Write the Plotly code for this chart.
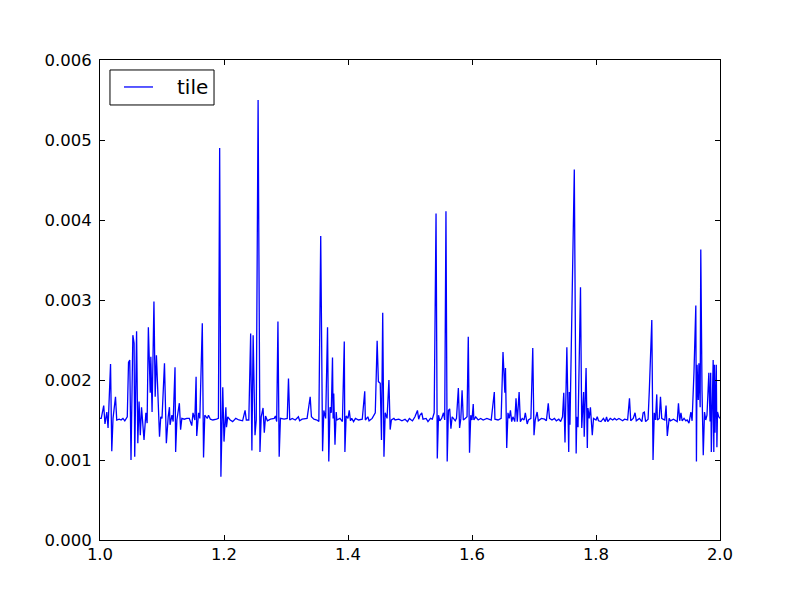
import plotly.graph_objects as go

x_vals = [
    1.000, 1.002, 1.006, 1.008, 1.011, 1.013, 1.017, 1.019, 1.021, 1.025, 1.027, 1.031, 1.034, 1.037, 1.040,
    1.044, 1.046, 1.048, 1.050, 1.053, 1.055, 1.056, 1.059, 1.061, 1.063, 1.065, 1.067, 1.069, 1.071, 1.074,
    1.076, 1.078, 1.081, 1.082, 1.084, 1.087, 1.089, 1.091, 1.094, 1.096, 1.098, 1.100, 1.104, 1.107, 1.110,
    1.112, 1.113, 1.116, 1.118, 1.121, 1.122, 1.124, 1.128, 1.130, 1.132, 1.136, 1.140, 1.144, 1.148, 1.150,
    1.153, 1.155, 1.156, 1.159, 1.161, 1.165, 1.167, 1.169, 1.173, 1.175, 1.178, 1.182, 1.188, 1.191, 1.193,
    1.195, 1.198, 1.200, 1.203, 1.204, 1.206, 1.210, 1.214, 1.219, 1.224, 1.230, 1.234, 1.236, 1.240, 1.243,
    1.245, 1.247, 1.250, 1.252, 1.255, 1.258, 1.260, 1.263, 1.265, 1.267, 1.270, 1.275, 1.281, 1.283, 1.285,
    1.287, 1.289, 1.291, 1.297, 1.302, 1.304, 1.306, 1.310, 1.315, 1.320, 1.322, 1.326, 1.334, 1.339, 1.341,
    1.345, 1.350, 1.353, 1.356, 1.359, 1.361, 1.364, 1.367, 1.369, 1.371, 1.373, 1.375, 1.376, 1.377, 1.379,
    1.381, 1.382, 1.387, 1.391, 1.394, 1.395, 1.397, 1.400, 1.402, 1.404, 1.406, 1.409, 1.412, 1.417, 1.423,
    1.427, 1.428, 1.432, 1.434, 1.439, 1.444, 1.447, 1.449, 1.452, 1.454, 1.456, 1.458, 1.460, 1.463, 1.466,
    1.468, 1.470, 1.474, 1.476, 1.482, 1.487, 1.492, 1.496, 1.499, 1.502, 1.504, 1.508, 1.512, 1.514, 1.516,
    1.519, 1.521, 1.526, 1.529, 1.533, 1.536, 1.539, 1.542, 1.544, 1.546, 1.548, 1.551, 1.554, 1.556, 1.558,
    1.560, 1.562, 1.564, 1.566, 1.568, 1.570, 1.573, 1.575, 1.578, 1.580, 1.582, 1.584, 1.586, 1.589, 1.592,
    1.594, 1.596, 1.598, 1.600, 1.602, 1.603, 1.606, 1.610, 1.614, 1.618, 1.624, 1.628, 1.631, 1.636, 1.637,
    1.642, 1.647, 1.650, 1.653, 1.654, 1.656, 1.658, 1.660, 1.662, 1.664, 1.666, 1.669, 1.671, 1.673, 1.676,
    1.678, 1.681, 1.684, 1.686, 1.689, 1.691, 1.695, 1.698, 1.700, 1.702, 1.705, 1.707, 1.712, 1.717, 1.720,
    1.723, 1.725, 1.729, 1.733, 1.736, 1.740, 1.743, 1.746, 1.748, 1.750, 1.753, 1.756, 1.757, 1.758, 1.765,
    1.768, 1.769, 1.771, 1.775, 1.777, 1.780, 1.781, 1.784, 1.786, 1.787, 1.789, 1.791, 1.794, 1.796, 1.800,
    1.802, 1.804, 1.808, 1.812, 1.815, 1.817, 1.819, 1.823, 1.827, 1.830, 1.833, 1.837, 1.843, 1.846, 1.851,
    1.854, 1.856, 1.860, 1.863, 1.865, 1.870, 1.874, 1.876, 1.878, 1.880, 1.884, 1.886, 1.890, 1.892, 1.894,
    1.896, 1.898, 1.899, 1.902, 1.904, 1.906, 1.908, 1.911, 1.913, 1.915, 1.918, 1.920, 1.925, 1.928, 1.931,
    1.933, 1.935, 1.937, 1.939, 1.942, 1.945, 1.947, 1.950, 1.953, 1.955, 1.958, 1.961, 1.962, 1.963, 1.965,
    1.966, 1.968, 1.969, 1.971, 1.973, 1.975, 1.977, 1.979, 1.982, 1.984, 1.985, 1.986, 1.988, 1.989, 1.990,
    1.991, 1.992, 1.994, 1.995, 1.996, 1.998, 2.000,
]

tile_vals = [
    0.00152, 0.00152, 0.00168, 0.00145, 0.00160, 0.00140, 0.00220, 0.00111, 0.00152, 0.00179, 0.00150, 0.00151, 0.00150, 0.00152, 0.00149,
    0.00154, 0.00222, 0.00225, 0.00100, 0.00256, 0.00246, 0.00104, 0.00261, 0.00121, 0.00173, 0.00131, 0.00166, 0.00144, 0.00125, 0.00159,
    0.00146, 0.00266, 0.00184, 0.00229, 0.00160, 0.00298, 0.00179, 0.00231, 0.00162, 0.00129, 0.00154, 0.00152, 0.00221, 0.00121, 0.00154,
    0.00166, 0.00144, 0.00156, 0.00148, 0.00216, 0.00110, 0.00150, 0.00171, 0.00138, 0.00152, 0.00151, 0.00152, 0.00152, 0.00143, 0.00159,
    0.00150, 0.00204, 0.00130, 0.00159, 0.00152, 0.00271, 0.00103, 0.00156, 0.00152, 0.00156, 0.00151, 0.00150, 0.00151, 0.00152, 0.00490,
    0.00079, 0.00191, 0.00123, 0.00166, 0.00141, 0.00154, 0.00150, 0.00148, 0.00152, 0.00150, 0.00149, 0.00162, 0.00150, 0.00150, 0.00258,
    0.00112, 0.00256, 0.00131, 0.00150, 0.00550, 0.00110, 0.00154, 0.00165, 0.00134, 0.00155, 0.00149, 0.00151, 0.00152, 0.00155, 0.00148,
    0.00273, 0.00104, 0.00152, 0.00151, 0.00152, 0.00202, 0.00150, 0.00152, 0.00150, 0.00154, 0.00149, 0.00151, 0.00152, 0.00179, 0.00154,
    0.00151, 0.00150, 0.00148, 0.00380, 0.00111, 0.00162, 0.00152, 0.00266, 0.00098, 0.00166, 0.00159, 0.00228, 0.00152, 0.00183, 0.00119,
    0.00160, 0.00150, 0.00152, 0.00148, 0.00248, 0.00110, 0.00155, 0.00152, 0.00162, 0.00149, 0.00152, 0.00148, 0.00152, 0.00150, 0.00151,
    0.00186, 0.00150, 0.00154, 0.00149, 0.00152, 0.00159, 0.00249, 0.00198, 0.00196, 0.00125, 0.00284, 0.00104, 0.00159, 0.00152, 0.00200,
    0.00138, 0.00150, 0.00152, 0.00150, 0.00151, 0.00149, 0.00151, 0.00148, 0.00152, 0.00150, 0.00149, 0.00154, 0.00162, 0.00151, 0.00156,
    0.00159, 0.00151, 0.00152, 0.00148, 0.00152, 0.00151, 0.00159, 0.00408, 0.00102, 0.00156, 0.00149, 0.00152, 0.00159, 0.00150, 0.00411,
    0.00098, 0.00162, 0.00164, 0.00139, 0.00154, 0.00152, 0.00149, 0.00152, 0.00190, 0.00140, 0.00152, 0.00187, 0.00150, 0.00152, 0.00154,
    0.00254, 0.00109, 0.00156, 0.00150, 0.00170, 0.00150, 0.00154, 0.00150, 0.00152, 0.00150, 0.00152, 0.00151, 0.00150, 0.00185, 0.00151,
    0.00150, 0.00152, 0.00235, 0.00184, 0.00215, 0.00115, 0.00159, 0.00152, 0.00162, 0.00148, 0.00154, 0.00148, 0.00177, 0.00148, 0.00185,
    0.00148, 0.00152, 0.00150, 0.00159, 0.00145, 0.00150, 0.00152, 0.00240, 0.00131, 0.00150, 0.00160, 0.00149, 0.00152, 0.00151, 0.00149,
    0.00171, 0.00152, 0.00150, 0.00152, 0.00149, 0.00151, 0.00148, 0.00154, 0.00184, 0.00122, 0.00241, 0.00110, 0.00185, 0.00144, 0.00463,
    0.00108, 0.00154, 0.00141, 0.00316, 0.00140, 0.00185, 0.00129, 0.00215, 0.00115, 0.00165, 0.00152, 0.00166, 0.00131, 0.00152, 0.00150,
    0.00154, 0.00149, 0.00148, 0.00152, 0.00148, 0.00154, 0.00148, 0.00152, 0.00150, 0.00152, 0.00150, 0.00152, 0.00149, 0.00151, 0.00150,
    0.00177, 0.00149, 0.00152, 0.00159, 0.00149, 0.00152, 0.00148, 0.00159, 0.00160, 0.00148, 0.00151, 0.00187, 0.00275, 0.00100, 0.00159,
    0.00150, 0.00182, 0.00150, 0.00152, 0.00179, 0.00152, 0.00151, 0.00150, 0.00168, 0.00130, 0.00152, 0.00149, 0.00151, 0.00149, 0.00148,
    0.00171, 0.00149, 0.00159, 0.00149, 0.00152, 0.00149, 0.00150, 0.00146, 0.00160, 0.00149, 0.00209, 0.00293, 0.00098, 0.00219, 0.00175,
    0.00221, 0.00166, 0.00363, 0.00187, 0.00106, 0.00160, 0.00150, 0.00156, 0.00209, 0.00148, 0.00209, 0.00110, 0.00198, 0.00225, 0.00110,
    0.00219, 0.00134, 0.00219, 0.00116, 0.00160, 0.00154, 0.00152,
]

x_ticks = [1.0, 1.2, 1.4, 1.6, 1.8, 2.0]
y_ticks = [0.000, 0.001, 0.002, 0.003, 0.004, 0.005, 0.006]
series_name = "tile"
line_color = "#0000ff"

fig = go.Figure()
fig.add_trace(go.Scatter(
    x=x_vals, y=tile_vals, mode="lines", name=series_name,
    line=dict(color=line_color, width=1.3), showlegend=False,
))

axis_common = dict(
    showline=True, linecolor="black", linewidth=1, mirror="ticks",
    ticks="inside", ticklen=5, tickwidth=1, tickcolor="black",
    showgrid=False, zeroline=False,
    tickfont=dict(family="DejaVu Sans", size=16.5, color="black"),
)

# Legend box drawn in paper coordinates (upper-left, matplotlib style)
shapes = [
    dict(type="rect", xref="paper", yref="paper", x0=0.0161, x1=0.1839, y0=0.9063, y1=0.9792,
         line=dict(color="black", width=1), fillcolor="white", layer="above"),
    dict(type="line", xref="paper", yref="paper", x0=0.0387, x1=0.0855, y0=0.9438, y1=0.9438,
         line=dict(color=line_color, width=1.3), layer="above"),
]
annotations = [
    dict(text=series_name, xref="paper", yref="paper", x=0.121, y=0.9438, xanchor="left", yanchor="middle",
         showarrow=False, font=dict(family="DejaVu Sans", size=20, color="black")),
]

# page body has an 8px default margin; offset the margins to compensate
fig.update_layout(
    width=800, height=600,
    paper_bgcolor="white", plot_bgcolor="white",
    margin=dict(l=92, r=88, t=52, b=68),
    showlegend=False,
    shapes=shapes,
    annotations=annotations,
    xaxis=dict(range=[1.0, 2.0], tickvals=x_ticks, tickformat=".1f", ticklabelstandoff=-1, **axis_common),
    yaxis=dict(range=[0.0, 0.006], tickvals=y_ticks, tickformat=".3f", ticklabelstandoff=4, **axis_common),
)

fig.write_html("out.html")
